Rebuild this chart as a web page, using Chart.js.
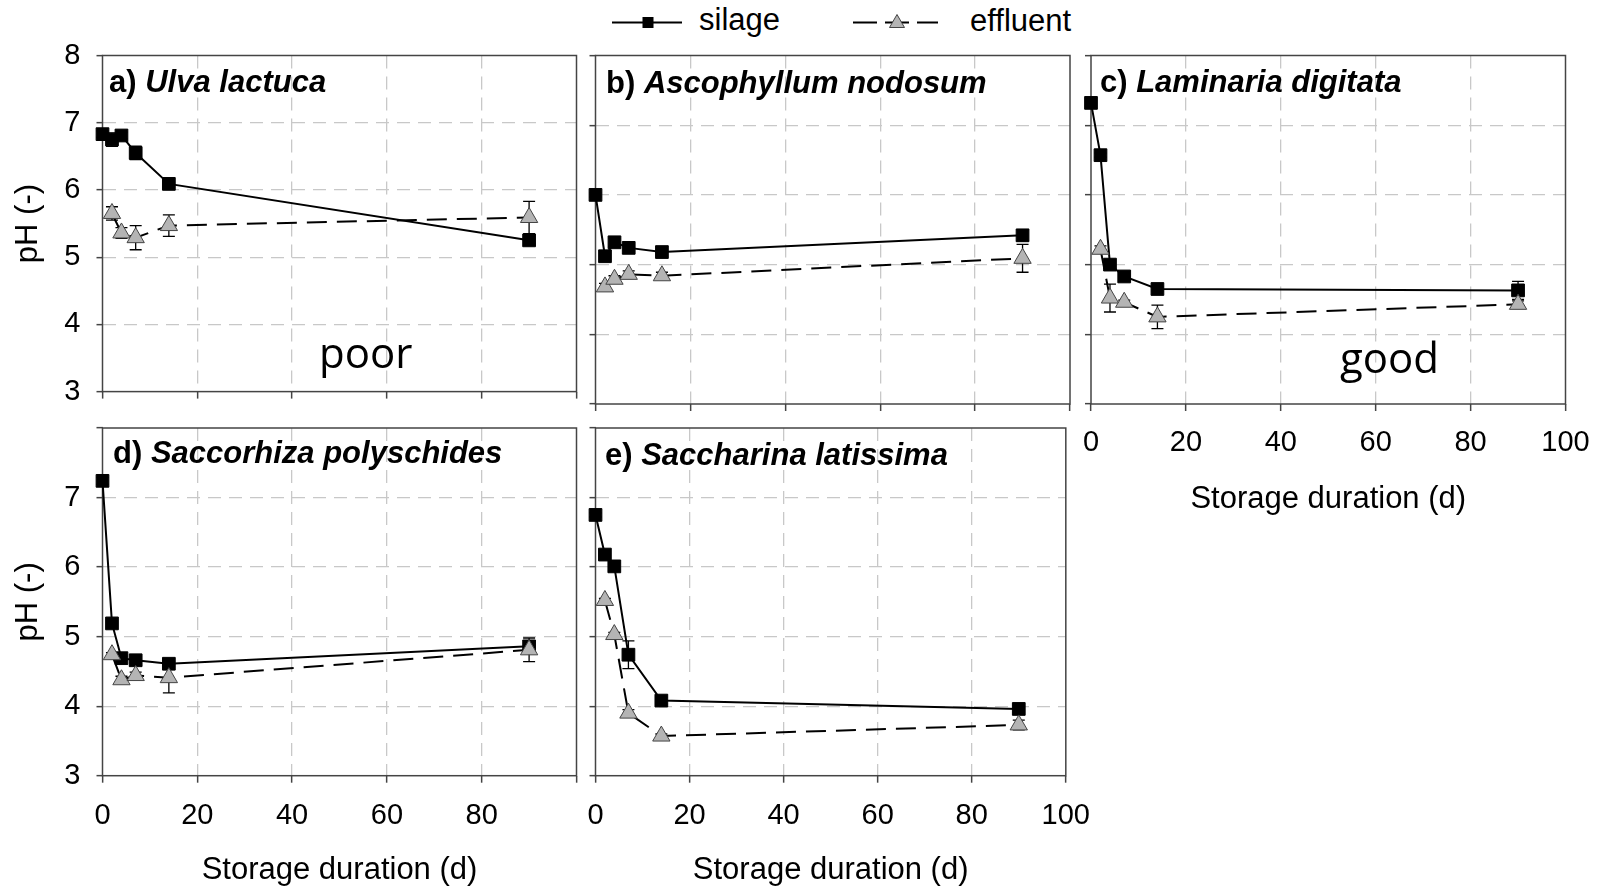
<!DOCTYPE html>
<html>
<head>
<meta charset="utf-8">
<script src="https://cdn.jsdelivr.net/npm/chart.js@4.4.1/dist/chart.umd.min.js"></script>
<style>
html,body{margin:0;padding:0;background:#fff;}
#root{position:relative;width:1606px;height:889px;overflow:hidden;font-family:'Liberation Sans',Arial,sans-serif;color:#000;}
.panel{position:absolute;}
.lbl{position:absolute;font-weight:bold;font-size:31px;line-height:31px;white-space:nowrap;}
.lbl i{font-style:italic;}
.note{position:absolute;font-family:'Open Sans','Noto Sans',sans-serif;font-size:42px;line-height:42px;white-space:nowrap;}
.leg{position:absolute;font-size:31px;line-height:31px;white-space:nowrap;}
svg.sym{position:absolute;left:0;top:0;}
</style>
</head>
<body>
<div id="root">
  <svg class="sym" width="1606" height="50">
    <line x1="612" y1="22.5" x2="682" y2="22.5" stroke="#000" stroke-width="2"/>
    <rect x="642.5" y="17" width="11" height="11" fill="#000"/>
    <line x1="853" y1="22.5" x2="938" y2="22.5" stroke="#000" stroke-width="2" stroke-dasharray="24 8"/>
    <polygon points="897,14.5 904.5,27.5 889.5,27.5" fill="#b4b4b4" stroke="#444" stroke-width="1"/>
  </svg>
  <div class="leg" style="left:699px;top:4px;">silage</div>
  <div class="leg" style="left:970px;top:4.5px;">effluent</div>
</div>
<script>
// ---- data ----
const days = [0, 2, 4, 7, 14, 90];
const effluentDays = [2, 4, 7, 14, 90];
const xTickValues = [0, 20, 40, 60, 80, 100];
const yTickValues = [3, 4, 5, 6, 7, 8];
const seriesNames = ['silage', 'effluent'];

const titlesBold = ['a)', 'b)', 'c)', 'd)', 'e)'];
const titlesItalic = ['Ulva lactuca', 'Ascophyllum nodosum', 'Laminaria digitata', 'Saccorhiza polyschides', 'Saccharina latissima'];

const silageA = [6.83, 6.75, 6.81, 6.55, 6.09, 5.25];
const silageErrA = [0.05, 0.1, 0.05, 0.1, 0.05, 0.05];
const effluentA = [5.65, 5.36, 5.29, 5.47, 5.59];
const effluentErrA = [0.1, 0.08, 0.18, 0.16, 0.24];

const silageB = [6.00, 5.12, 5.32, 5.24, 5.18, 5.42];
const silageErrB = [0.03, 0.05, 0.06, 0.03, 0.04, 0.08];
const effluentB = [4.68, 4.79, 4.86, 4.84, 5.09];
const effluentErrB = [0.05, 0.05, 0.05, 0.05, 0.2];

const silageC = [7.32, 6.57, 5.00, 4.83, 4.65, 4.63];
const silageErrC = [0.03, 0.03, 0.03, 0.03, 0.03, 0.13];
const effluentC = [5.22, 4.52, 4.46, 4.25, 4.43];
const effluentErrC = [0.05, 0.2, 0.03, 0.17, 0.05];

const silageD = [7.24, 5.19, 4.69, 4.66, 4.61, 4.86];
const silageErrD = [0.05, 0.05, 0.03, 0.03, 0.03, 0.07];
const effluentD = [4.74, 4.38, 4.44, 4.41, 4.81];
const effluentErrD = [0.03, 0.05, 0.05, 0.22, 0.17];

const silageE = [6.75, 6.18, 6.01, 4.74, 4.08, 3.96];
const silageErrE = [0.03, 0.05, 0.05, 0.2, 0.05, 0.05];
const effluentE = [5.52, 5.03, 3.90, 3.57, 3.73];
const effluentErrE = [0.03, 0.03, 0.05, 0.03, 0.07];

const xTitle = 'Storage duration (d)';
const yTitle = 'pH (-)';
const notes = ['poor', 'good'];

// ---- layout ----
const FONT = "'Liberation Sans', Arial, sans-serif";
const root = document.getElementById('root');

const frame = {
  id: 'frame',
  beforeDatasetsDraw(chart) {
    const {ctx, chartArea: a} = chart;
    ctx.save();
    ctx.strokeStyle = '#444';
    ctx.lineWidth = 1.5;
    ctx.setLineDash([]);
    ctx.strokeRect(a.left, a.top, a.right - a.left, a.bottom - a.top);
    ctx.restore();
  }
};

const errorBars = {
  id: 'errorBars',
  beforeDatasetsDraw(chart) {
    const ctx = chart.ctx, ys = chart.scales.y;
    chart.data.datasets.forEach((ds, i) => {
      if (!ds.errors) return;
      const meta = chart.getDatasetMeta(i);
      ctx.save();
      ctx.strokeStyle = '#000';
      ctx.lineWidth = 1.3;
      ctx.setLineDash([]);
      meta.data.forEach((pt, j) => {
        const v = ds.data[j].y, e = ds.errors[j];
        const yt = ys.getPixelForValue(v + e), yb = ys.getPixelForValue(v - e);
        ctx.beginPath();
        ctx.moveTo(pt.x, yt); ctx.lineTo(pt.x, yb);
        ctx.moveTo(pt.x - 6, yt); ctx.lineTo(pt.x + 6, yt);
        ctx.moveTo(pt.x - 6, yb); ctx.lineTo(pt.x + 6, yb);
        ctx.stroke();
      });
      ctx.restore();
    });
  }
};

const panels = [
  {silage: silageA, silageErr: silageErrA, effluent: effluentA, effluentErr: effluentErrA,
   box: [0, 0, 600, 425], yW: 102.5, xH: 21, padTop: 55.5, padRight: 23.5,
   yLabels: true, xLabels: false, hideY: null, hideX: null, lbl: [109, 66]},
  {silage: silageB, silageErr: silageErrB, effluent: effluentB, effluentErr: effluentErrB,
   box: [540, 0, 566, 425], yW: 55.5, xH: 21, padTop: 55.5, padRight: 36,
   yLabels: false, xLabels: false, hideY: null, hideX: null, lbl: [606, 67]},
  {silage: silageC, silageErr: silageErrC, effluent: effluentC, effluentErr: effluentErrC,
   box: [1030, 0, 576, 520], yW: 61, xH: 116, padTop: 55.5, padRight: 40.5,
   yLabels: false, xLabels: true, tickPad: 14.5, titlePad: 2, hideY: null, hideX: null, lbl: [1100, 66]},
  {silage: silageD, silageErr: silageErrD, effluent: effluentD, effluentErr: effluentErrD,
   box: [0, 390, 600, 499], yW: 102.5, xH: 113.3, padTop: 38, padRight: 23.5,
   yLabels: true, xLabels: true, tickPad: 16, titlePad: 0, hideY: 8, hideX: 100, lbl: [113, 437]},
  {silage: silageE, silageErr: silageErrE, effluent: effluentE, effluentErr: effluentErrE,
   box: [540, 390, 566, 499], yW: 55.5, xH: 113.3, padTop: 38, padRight: 36,
   yLabels: false, xLabels: true, tickPad: 16, titlePad: 0, hideY: null, hideX: null, lbl: [605, 438.5]}
];

function gridColor(min, max) {
  return c => (c.tick && (c.tick.value === min || c.tick.value === max)) ? 'rgba(0,0,0,0)' : '#c8c8c8';
}

panels.forEach((p, k) => {
  const wrap = document.createElement('div');
  wrap.className = 'panel';
  wrap.style.left = p.box[0] + 'px';
  wrap.style.top = p.box[1] + 'px';
  wrap.style.width = p.box[2] + 'px';
  wrap.style.height = p.box[3] + 'px';
  const cv = document.createElement('canvas');
  wrap.appendChild(cv);
  root.appendChild(wrap);

  const lbl = document.createElement('div');
  lbl.className = 'lbl';
  lbl.style.left = p.lbl[0] + 'px';
  lbl.style.top = p.lbl[1] + 'px';
  lbl.innerHTML = titlesBold[k] + ' <i>' + titlesItalic[k] + '</i>';
  root.appendChild(lbl);

  new Chart(cv, {
    type: 'line',
    data: {
      datasets: [
        {
          label: seriesNames[0],
          data: days.map((d, i) => ({x: d, y: p.silage[i]})),
          errors: p.silageErr,
          borderColor: '#000', borderWidth: 2, tension: 0,
          pointStyle: 'rect', pointRadius: 9, pointHoverRadius: 9,
          pointBackgroundColor: '#000', pointBorderColor: '#000', pointBorderWidth: 1,
          clip: false, order: 1
        },
        {
          label: seriesNames[1],
          data: effluentDays.map((d, i) => ({x: d, y: p.effluent[i]})),
          errors: p.effluentErr,
          borderColor: '#000', borderWidth: 2, borderDash: [20, 10], tension: 0,
          pointStyle: 'triangle', pointRadius: 10, pointHoverRadius: 10,
          pointBackgroundColor: '#b4b4b4', pointBorderColor: '#444', pointBorderWidth: 1,
          clip: false, order: 0
        }
      ]
    },
    options: {
      responsive: true, maintainAspectRatio: false, animation: false, devicePixelRatio: 1,
      layout: {padding: {top: p.padTop, right: p.padRight, bottom: 0, left: 0}},
      plugins: {legend: {display: false}, tooltip: {enabled: false}},
      events: [],
      scales: {
        x: {
          type: 'linear', min: xTickValues[0], max: xTickValues[xTickValues.length - 1],
          afterBuildTicks: s => { s.ticks = xTickValues.map(v => ({value: v})); },
          afterFit: s => { s.height = p.xH; },
          border: {display: false, dash: [13, 8]},
          grid: {color: gridColor(0, 100), lineWidth: 1.3, drawTicks: true, tickLength: 7,
                 tickColor: '#444', tickWidth: 1.5, tickBorderDash: []},
          ticks: {display: p.xLabels, padding: p.tickPad || 0, color: '#000', maxRotation: 0,
                  autoSkip: false, font: {family: FONT, size: 29},
                  callback: v => (v === p.hideX ? '' : String(v))},
          title: {display: p.xLabels, text: xTitle, color: '#000',
                  font: {family: FONT, size: 31}, padding: {top: 0, bottom: p.titlePad || 0}}
        },
        y: {
          type: 'linear', min: yTickValues[0], max: yTickValues[yTickValues.length - 1],
          afterBuildTicks: s => { s.ticks = yTickValues.map(v => ({value: v})); },
          afterFit: s => { s.width = p.yW; },
          border: {display: false, dash: [13, 8]},
          grid: {color: gridColor(3, 8), lineWidth: 1.3, drawTicks: true, tickLength: 6,
                 tickColor: '#444', tickWidth: 1.5, tickBorderDash: []},
          ticks: {display: p.yLabels, padding: 16, color: '#000', font: {family: FONT, size: 29},
                  callback: v => (v === p.hideY ? '' : String(v))},
          title: {display: p.yLabels, text: yTitle, color: '#000',
                  font: {family: FONT, size: 31}, padding: {top: 10, bottom: 0}}
        }
      }
    },
    plugins: [frame, errorBars]
  });
});

// annotations
const n1 = document.createElement('div');
n1.className = 'note'; n1.style.left = '319px'; n1.style.top = '331px'; n1.textContent = notes[0];
root.appendChild(n1);
const n2 = document.createElement('div');
n2.className = 'note'; n2.style.left = '1340px'; n2.style.top = '336px'; n2.textContent = notes[1];
root.appendChild(n2);
</script>
</body>
</html>
